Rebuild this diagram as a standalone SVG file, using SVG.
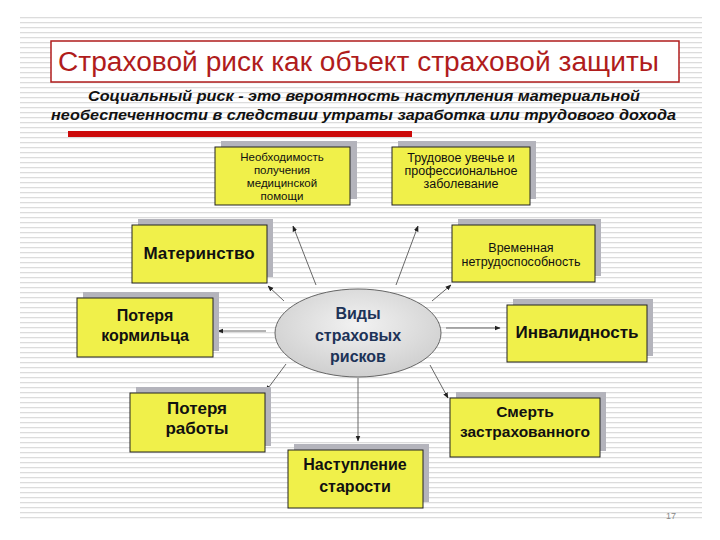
<svg xmlns="http://www.w3.org/2000/svg" width="720" height="540" viewBox="0 0 720 540">
<defs>
<pattern id="stripes" x="0" y="17" width="10" height="5" patternUnits="userSpaceOnUse">
<rect x="0" y="0" width="10" height="1.3" fill="#dcdcdc"/>
</pattern>
<radialGradient id="ell" cx="50%" cy="40%" r="60%">
<stop offset="0" stop-color="#f2f2f2"/>
<stop offset="1" stop-color="#cfcfcf"/>
</radialGradient>
<marker id="ah" viewBox="0 0 10 10" refX="9" refY="5" markerWidth="6" markerHeight="6" orient="auto" markerUnits="userSpaceOnUse">
<path d="M0,1 L10,5 L0,9 z" fill="#222"/>
</marker>
</defs>
<style>
.shadow{fill:#b4b4bc}
.box{fill:#f0f04a;stroke:#222;stroke-width:1}
.t{font-family:"Liberation Sans",Arial,sans-serif;fill:#111;text-anchor:middle}
.sm{font-size:11.5px}
.b{font-weight:bold}
.c{fill:#1d3358}
.con{stroke:#666;stroke-width:1;fill:none;marker-end:url(#ah)}
</style>
<rect width="720" height="540" fill="#fff"/>
<rect x="20" y="17" width="682" height="505" fill="url(#stripes)"/>

<g id="title">
<rect x="51" y="41" width="628" height="41" fill="#fff" stroke="#b01c1c" stroke-width="1.5"/>
<text x="58" y="71" font-family="Liberation Sans,Arial,sans-serif" font-size="27" fill="#b01c1c" textLength="601" lengthAdjust="spacingAndGlyphs">Страховой риск как объект страховой защиты</text>
</g>
<g id="subtitle">
<text x="88" y="101" font-family="Liberation Sans,Arial,sans-serif" font-size="15" font-weight="bold" font-style="italic" fill="#111" textLength="552" lengthAdjust="spacingAndGlyphs">Социальный риск - это вероятность наступления материальной</text>
<text x="51" y="120" font-family="Liberation Sans,Arial,sans-serif" font-size="15" font-weight="bold" font-style="italic" fill="#111" textLength="625" lengthAdjust="spacingAndGlyphs">необеспеченности в следствии утраты заработка или трудового дохода</text>
<rect x="68" y="131" width="344" height="6" fill="#cc0a0a"/>
</g>

<g id="connectors">
<line class="con" x1="316" y1="285" x2="293" y2="226"/>
<line class="con" x1="396" y1="285" x2="418" y2="226"/>
<line class="con" x1="284" y1="301" x2="268" y2="286"/>
<line class="con" x1="432" y1="301" x2="451" y2="285"/>
<line class="con" x1="266" y1="331" x2="218" y2="331"/>
<line class="con" x1="446" y1="328" x2="500" y2="328"/>
<line class="con" x1="286" y1="364" x2="266" y2="391"/>
<line class="con" x1="430" y1="365" x2="448" y2="398"/>
<line class="con" x1="358" y1="378" x2="358" y2="441"/>
</g>

<g id="node-med">
<rect class="shadow" x="221" y="141" width="136" height="58"/>
<rect class="box" x="215" y="147" width="135" height="58"/>
<text class="t sm" x="282" y="161">Необходимость</text>
<text class="t sm" x="282" y="174">получения</text>
<text class="t sm" x="282" y="187">медицинской</text>
<text class="t sm" x="282" y="200">помощи</text>
</g>
<g id="node-trauma">
<rect class="shadow" x="398" y="141" width="138" height="58"/>
<rect class="box" x="392" y="147" width="138" height="58"/>
<text class="t" font-size="12.5" x="461" y="162">Трудовое увечье и</text>
<text class="t" font-size="12.5" x="461" y="175">профессиональное</text>
<text class="t" font-size="12.5" x="461" y="188">заболевание</text>
</g>
<g id="node-maternity">
<rect class="shadow" x="138" y="219" width="135" height="58"/>
<rect class="box" x="132" y="225" width="135" height="58"/>
<text class="t b" font-size="17" x="199" y="259">Материнство</text>
</g>
<g id="node-temp">
<rect class="shadow" x="458" y="219" width="143" height="57"/>
<rect class="box" x="452" y="225" width="143" height="57"/>
<text class="t" font-size="12.5" x="521" y="252">Временная</text>
<text class="t" font-size="12.5" x="521" y="266">нетрудоспособность</text>
</g>
<g id="node-breadwinner">
<rect class="shadow" x="83" y="292" width="136" height="59"/>
<rect class="box" x="77" y="298" width="136" height="59"/>
<text class="t b" font-size="16" x="145" y="321">Потеря</text>
<text class="t b" font-size="16" x="145" y="341">кормильца</text>
</g>
<g id="node-disability">
<rect class="shadow" x="513" y="299" width="140" height="57"/>
<rect class="box" x="507" y="305" width="140" height="57"/>
<text class="t b" font-size="17" x="577" y="338">Инвалидность</text>
</g>
<g id="center">
<ellipse cx="358" cy="333" rx="83" ry="44" fill="url(#ell)" stroke="#666" stroke-width="1"/>
<text class="t b c" font-size="16" x="358" y="319">Виды</text>
<text class="t b c" font-size="16" x="358" y="341">страховых</text>
<text class="t b c" font-size="16" x="358" y="362">рисков</text>
</g>
<g id="node-job">
<rect class="shadow" x="136" y="387" width="135" height="59"/>
<rect class="box" x="130" y="393" width="135" height="59"/>
<text class="t b" font-size="17" x="197" y="414">Потеря</text>
<text class="t b" font-size="17" x="197" y="434">работы</text>
</g>
<g id="node-death">
<rect class="shadow" x="456" y="392" width="150" height="59"/>
<rect class="box" x="450" y="398" width="150" height="59"/>
<text class="t b" font-size="15.5" x="525" y="417">Смерть</text>
<text class="t b" font-size="15.5" x="525" y="437">застрахованного</text>
</g>
<g id="node-old">
<rect class="shadow" x="294" y="444" width="135" height="58"/>
<rect class="box" x="288" y="450" width="135" height="58"/>
<text class="t b" font-size="16" x="355" y="470">Наступление</text>
<text class="t b" font-size="16" x="355" y="492">старости</text>
</g>
<text x="671" y="519" font-family="Liberation Sans,Arial,sans-serif" font-size="9" fill="#888" text-anchor="middle">17</text>
</svg>
